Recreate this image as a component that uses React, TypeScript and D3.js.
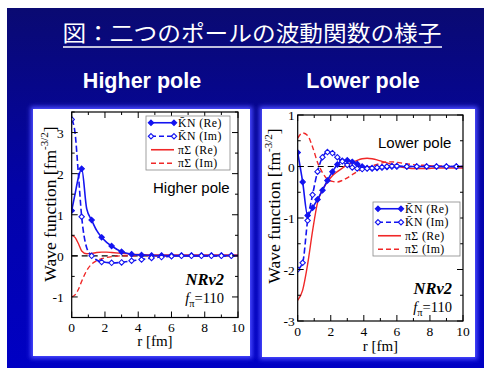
import React from "react";
import * as d3 from "d3";

// ---------- data ----------
const R_HIGH = [0, 0.2, 0.4, 0.6, 0.9, 1.2, 1.5, 1.8, 2.1, 2.4, 3.0, 3.6, 4.2, 4.8, 5.4, 6.0, 6.6, 7.2, 7.8, 8.4, 9.0, 9.6, 10];
const HIGH_KN_RE = [1.1, 1.5, 1.9, 2.12, 1.15, 0.87, 0.62, 0.45, 0.33, 0.24, 0.1, 0.04, 0.02, 0.01, 0.01, 0.01, 0.01, 0.01, 0.01, 0.01, 0.01, 0.01, 0.01];
const HIGH_KN_IM = [3.32, 3.0, 2.0, 0.95, 0.2, 0.0, -0.1, -0.15, -0.16, -0.17, -0.16, -0.12, -0.09, -0.05, -0.03, -0.01, 0, 0, 0, 0, 0, 0, 0];
const HIGH_PS_RE = [0.5, 0.45, 0.3, 0.12, 0.05, 0.06, 0.08, 0.09, 0.09, 0.08, 0.06, 0.04, 0.03, 0.02, 0.02, 0.02, 0.02, 0.02, 0.02, 0.02, 0.02, 0.02, 0.02];
const HIGH_PS_IM = [-1.0, -0.95, -0.82, -0.62, -0.36, -0.2, -0.12, -0.07, -0.04, -0.02, 0, 0, 0, 0, 0, 0, 0, 0, 0, 0, 0, 0, 0];
const HIGH_MARKERS = [0, 0.6, 1.2, 1.8, 2.4, 3.0, 3.6, 4.2, 4.8, 5.4, 6.0, 6.6, 7.2, 7.8, 8.4, 9.0, 9.6];

const R_LOW = [0, 0.3, 0.6, 0.9, 1.2, 1.5, 1.8, 2.1, 2.4, 2.7, 3.0, 3.3, 3.6, 3.9, 4.2, 4.5, 4.8, 5.1, 5.4, 5.7, 6.0, 6.6, 7.2, 7.8, 8.4, 9.0, 9.6, 10];
const LOW_KN_RE = [0.27, -0.3, -0.95, -0.8, -0.64, -0.46, -0.27, -0.1, 0.04, 0.11, 0.12, 0.09, 0.05, 0.0, -0.03, -0.04, -0.03, -0.02, -0.01, 0, 0, 0, 0, 0, 0, 0, 0, 0];
const LOW_KN_IM = [-2.0, -1.87, -1.05, -0.55, -0.1, 0.18, 0.28, 0.26, 0.18, 0.1, 0.03, -0.02, -0.04, -0.05, -0.04, -0.03, -0.02, -0.01, 0, 0.01, 0.01, 0, 0, 0, 0, 0, 0, 0];
const LOW_PS_RE = [-2.6, -2.4, -1.9, -1.25, -0.7, -0.45, -0.3, -0.18, -0.1, -0.03, 0.03, 0.08, 0.12, 0.15, 0.16, 0.15, 0.13, 0.1, 0.07, 0.04, 0.01, -0.03, -0.04, -0.04, -0.03, -0.03, -0.03, -0.03];
const LOW_PS_IM = [0.55, 0.65, 0.6, 0.38, 0.08, -0.12, -0.25, -0.29, -0.3, -0.27, -0.22, -0.16, -0.1, -0.05, -0.02, 0.01, 0.04, 0.07, 0.09, 0.09, 0.08, 0.05, 0.03, 0.02, 0.01, 0.01, 0, 0];
const LOW_MARKERS = [0, 0.3, 0.6, 0.9, 1.2, 1.5, 1.8, 2.1, 2.4, 2.7, 3.0, 3.3, 3.6, 3.9, 4.2, 4.5, 4.8, 5.1, 5.4, 5.7, 6.0, 6.6, 7.2, 7.8, 8.4, 9.0, 9.6];

const X_TICKS = [0, 2, 4, 6, 8, 10];
const HIGH_Y_TICKS = [-1, 0, 1, 2, 3];
const LOW_Y_TICKS = [-3, -2, -1, 0, 1];
const LEGEND_LABELS = ["K\u0304N (Re)", "K\u0304N (Im)", "\u03c0\u03a3 (Re)", "\u03c0\u03a3 (Im)"];
const TITLE = "図：二つのポールの波動関数の様子";
const HEADINGS = ["Higher pole", "Lower pole"];

const BLUE = "#1414f0";
const RED = "#f02828";
const SERIF = "'Liberation Serif', 'Times New Roman', serif";
const SANS = "'Liberation Sans', Arial, sans-serif";

type PanelProps = {
  left: number; top: number; right: number; bottom: number;
  yDomain: [number, number];
  yTicks: number[];
  r: number[];
  knRe: number[]; knIm: number[]; psRe: number[]; psIm: number[];
  markers: number[];
  legendX: number; legendY: number; legendW: number; legendH: number;
  innerLabel: string; innerLabelX: number; innerLabelY: number;
  nrX: number; nrY: number;
  yLabelX: number; yLabelY: number; xLabelY: number; xTickY: number; yTickGap: number;
  box: [number, number, number, number];
};

function Diamond({ x, y, filled }: { x: number; y: number; filled: boolean }) {
  const s = 2.7;
  return (
    <path
      d={`M${x},${y - s}L${x + s},${y}L${x},${y + s}L${x - s},${y}Z`}
      fill={filled ? BLUE : "white"}
      stroke={BLUE}
      strokeWidth={1.1}
    />
  );
}

function Panel(p: PanelProps) {
  const x = d3.scaleLinear().domain([0, 10]).range([p.left, p.right]);
  const y = d3.scaleLinear().domain(p.yDomain).range([p.bottom, p.top]);
  const line = d3
    .line<number>()
    .x((_, i) => x(p.r[i]))
    .y((v) => y(v))
    .curve(d3.curveMonotoneX);
  const markIdx = p.r.map((rv, i) => (p.markers.some((m) => Math.abs(m - rv) < 1e-6) ? i : -1)).filter((i) => i >= 0);

  const xMinor = d3.range(0, 10.001, 1);
  const yMinor = d3.range(p.yDomain[0], p.yDomain[1] + 0.001, 0.5);
  const isMajorX = (v: number) => Math.abs(v % 2) < 1e-6;
  const isMajorY = (v: number) => Math.abs(v - Math.round(v)) < 1e-6;
  const [bx, by, bw, bh] = p.box;

  const legendRows = [
    { dash: undefined, color: BLUE, marker: "filled" },
    { dash: "5,3", color: BLUE, marker: "open" },
    { dash: undefined, color: RED, marker: "" },
    { dash: "5,3", color: RED, marker: "" },
  ];
  const rowH = p.legendH / 4;

  return (
    <g>
      <rect x={bx - 2.5} y={by - 2.5} width={bw + 5} height={bh + 5} fill="#4848ff" filter="url(#glow)" />
      <rect x={bx} y={by} width={bw} height={bh} fill="white" />
      <defs>
        <clipPath id={`clip${p.left}`}>
          <rect x={p.left} y={p.top} width={p.right - p.left} height={p.bottom - p.top} />
        </clipPath>
      </defs>
      <line x1={p.left} x2={p.right} y1={y(0)} y2={y(0)} stroke="black" strokeWidth={1.2} strokeDasharray="6,4" />
      <g clipPath={`url(#clip${p.left})`}>
        <path d={line(p.psRe) || ""} fill="none" stroke={RED} strokeWidth={1.4} />
        <path d={line(p.psIm) || ""} fill="none" stroke={RED} strokeWidth={1.4} strokeDasharray="5,3" />
        <path d={line(p.knRe) || ""} fill="none" stroke={BLUE} strokeWidth={1.6} />
        <path d={line(p.knIm) || ""} fill="none" stroke={BLUE} strokeWidth={1.6} strokeDasharray="6,3" />
        {markIdx.map((i) => (
          <Diamond key={"re" + i} x={x(p.r[i])} y={y(p.knRe[i])} filled={true} />
        ))}
        {markIdx.map((i) => (
          <Diamond key={"im" + i} x={x(p.r[i])} y={y(p.knIm[i])} filled={false} />
        ))}
      </g>
      <rect x={p.left} y={p.top} width={p.right - p.left} height={p.bottom - p.top} fill="none" stroke="black" strokeWidth={1.2} />
      {xMinor.map((v) => {
        const L = isMajorX(v) ? 6 : 3;
        return (
          <g key={"xt" + v}>
            <line x1={x(v)} x2={x(v)} y1={p.bottom} y2={p.bottom - L} stroke="black" />
            <line x1={x(v)} x2={x(v)} y1={p.top} y2={p.top + L} stroke="black" />
          </g>
        );
      })}
      {yMinor.map((v) => {
        const L = isMajorY(v) ? 6 : 3;
        return (
          <g key={"yt" + v}>
            <line x1={p.left} x2={p.left + L} y1={y(v)} y2={y(v)} stroke="black" />
            <line x1={p.right} x2={p.right - L} y1={y(v)} y2={y(v)} stroke="black" />
          </g>
        );
      })}
      {X_TICKS.map((v) => (
        <text key={"xl" + v} x={x(v)} y={p.xTickY} textAnchor="middle" fontFamily={SERIF} fontSize={13.5} fill="black">
          {v}
        </text>
      ))}
      {p.yTicks.map((v) => (
        <text key={"yl" + v} x={p.left - p.yTickGap} y={y(v) + 5} textAnchor="end" fontFamily={SERIF} fontSize={13.5} fill="black">
          {v}
        </text>
      ))}
      <text x={(p.left + p.right) / 2} y={p.xLabelY} textAnchor="middle" fontFamily={SERIF} fontSize={15} fill="black">
        r [fm]
      </text>
      <text
        transform={`translate(${p.yLabelX},${p.yLabelY}) rotate(-90)`}
        textAnchor="middle"
        fontFamily={SERIF}
        fontSize={17.5}
        fill="black"
      >
        Wave function  [fm
        <tspan dy={-8} fontSize={11}>-3/2</tspan>
        <tspan dy={8}>]</tspan>
      </text>
      <rect x={p.legendX} y={p.legendY} width={p.legendW} height={p.legendH} fill="white" stroke="#888" strokeWidth={0.8} />
      {legendRows.map((row, i) => {
        const cy = p.legendY + rowH * (i + 0.5);
        const x1 = p.legendX + 5;
        const x2 = p.legendX + 28;
        return (
          <g key={"lg" + i}>
            <line x1={x1} x2={x2} y1={cy} y2={cy} stroke={row.color} strokeWidth={1.6} strokeDasharray={row.dash} />
            {row.marker && <Diamond x={x1} y={cy} filled={row.marker === "filled"} />}
            {row.marker && <Diamond x={x2} y={cy} filled={row.marker === "filled"} />}
            <text x={p.legendX + 32} y={cy + 4} fontFamily={SERIF} fontSize={11.8} letterSpacing={0.4} fill="black">
              {LEGEND_LABELS[i]}
            </text>
          </g>
        );
      })}
      <text x={p.innerLabelX} y={p.innerLabelY} fontFamily={SANS} fontSize={15} fill="black">
        {p.innerLabel}
      </text>
      <text x={p.nrX} y={p.nrY} textAnchor="end" fontFamily={SERIF} fontSize={16.5} fontWeight="bold" fontStyle="italic" fill="black">
        NRv2
      </text>
      <text x={p.nrX} y={p.nrY + 18} textAnchor="end" fontFamily={SERIF} fontSize={14.5} fill="black">
        <tspan fontStyle="italic">f</tspan>
        <tspan dy={3.5} fontSize={10.5}>π</tspan>
        <tspan dy={-3.5}>=110</tspan>
      </text>
    </g>
  );
}

export default function App() {
  return (
    <svg
      width={484}
      height={368}
      style={{ position: "absolute", left: 0, top: 0 }}
      xmlns="http://www.w3.org/2000/svg"
    >
      <defs>
        <linearGradient id="bg" x1="0" y1="0" x2="0" y2="1">
          <stop offset="0" stopColor="#0a0a72" />
          <stop offset="0.5" stopColor="#0303a8" />
          <stop offset="1" stopColor="#0000c4" />
        </linearGradient>
        <filter id="glow" x="-10%" y="-10%" width="120%" height="120%">
          <feGaussianBlur stdDeviation="2" />
        </filter>
      </defs>
      <rect x={0} y={0} width={484} height={368} fill="white" />
      <rect x={7} y={8} width={477} height={360} fill="url(#bg)" />
      <text x={252} y={41} textAnchor="middle" fontFamily="'Noto Sans CJK JP', sans-serif" fontSize={22} fill="white" textLength={379} lengthAdjust="spacingAndGlyphs">
        {TITLE}
      </text>
      <line x1={63} x2={442} y1={47} y2={47} stroke="white" strokeWidth={1.5} />
      <text x={142} y={88} textAnchor="middle" fontFamily={SANS} fontWeight="bold" fontSize={21.5} fill="white">
        {HEADINGS[0]}
      </text>
      <text x={363} y={88} textAnchor="middle" fontFamily={SANS} fontWeight="bold" fontSize={21.5} fill="white">
        {HEADINGS[1]}
      </text>
      <Panel
        left={71.7} top={112} right={238} bottom={317.5}
        yDomain={[-1.5, 3.5]} yTicks={HIGH_Y_TICKS}
        r={R_HIGH} knRe={HIGH_KN_RE} knIm={HIGH_KN_IM} psRe={HIGH_PS_RE} psIm={HIGH_PS_IM}
        markers={HIGH_MARKERS}
        legendX={146} legendY={116} legendW={84} legendH={54}
        innerLabel="Higher pole" innerLabelX={153} innerLabelY={193}
        nrX={224} nrY={285}
        yLabelX={56} yLabelY={204} xLabelY={346} xTickY={332} yTickGap={8}
        box={[33, 109, 217, 247]}
      />
      <Panel
        left={297.7} top={115} right={463} bottom={321}
        yDomain={[-3, 1]} yTicks={LOW_Y_TICKS}
        r={R_LOW} knRe={LOW_KN_RE} knIm={LOW_KN_IM} psRe={LOW_PS_RE} psIm={LOW_PS_IM}
        markers={LOW_MARKERS}
        legendX={373} legendY={202} legendW={87} legendH={54}
        innerLabel="Lower pole" innerLabelX={378} innerLabelY={148}
        nrX={452} nrY={294}
        yLabelX={280} yLabelY={206} xLabelY={351} xTickY={336} yTickGap={3}
        box={[262, 109, 213, 248]}
      />
    </svg>
  );
}
